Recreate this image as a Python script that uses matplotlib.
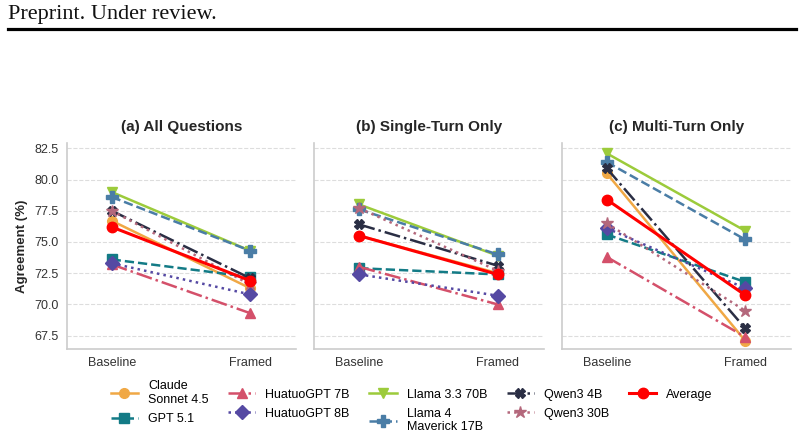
import matplotlib
matplotlib.use('Agg')
import matplotlib.pyplot as plt
from matplotlib.lines import Line2D

plt.rcParams['font.family'] = ['Liberation Sans', 'DejaVu Sans']

conditions = ['Baseline', 'Framed']
models = ['Claude\nSonnet 4.5', 'GPT 5.1', 'HuatuoGPT 7B', 'HuatuoGPT 8B',
          'Llama 3.3 70B', 'Llama 4\nMaverick 17B', 'Qwen3 4B', 'Qwen3 30B', 'Average']
panel_titles = ['(a) All Questions', '(b) Single-Turn Only', '(c) Multi-Turn Only']

# (baseline, framed) per model, same order as models
all_q = [[76.7, 71.3], [73.6, 72.2], [73.2, 69.3], [73.3, 70.8],
         [79.0, 74.3], [78.6, 74.3], [77.5, 72.1], [77.5, 71.6], [76.2, 71.9]]
single_turn = [[75.5, 72.5], [72.9, 72.4], [73.0, 70.0], [72.4, 70.7],
               [78.0, 73.9], [77.6, 74.0], [76.4, 73.1], [77.7, 72.7], [75.5, 72.4]]
multi_turn = [[80.5, 67.1], [75.6, 71.8], [73.8, 67.4], [76.1, 71.3],
              [82.1, 75.9], [81.4, 75.2], [80.9, 68.1], [76.5, 69.5], [78.4, 70.75]]
panels = [all_q, single_turn, multi_turn]

colors = ['#F0A845', '#137B86', '#D4506A', '#5549A3', '#9CCB3B',
          '#4A7DA6', '#2A2E44', '#B4687C', '#FF0000']
markers = ['o', 's', '^', 'D', 'v', 'P', 'X', '*', 'o']
styles = ['-', '--', '-.', ':', '-', '--', '-.', ':', '-']
widths = [1.8, 1.8, 1.8, 1.8, 1.8, 1.8, 1.8, 1.8, 2.2]
msizes = [7, 7, 7, 7, 7, 8, 7, 9, 7.5]

fig = plt.figure(figsize=(8.04, 4.38), dpi=100)

fig.text(8 / 804, 1 - 14 / 438, 'Preprint. Under review.', family='Liberation Serif',
         fontsize=16, va='center', ha='left', color='#111111')
fig.add_artist(Line2D([8 / 804, 796 / 804], [1 - 29 / 438, 1 - 29 / 438],
                      color='black', lw=2.3, transform=fig.transFigure))

lefts = [66.7 / 804, 314.3 / 804, 561.7 / 804]
handles = []
for k, data in enumerate(panels):
    ax = fig.add_axes([lefts[k], 1 - 349 / 438, 229.5 / 804, 205.7 / 438])
    for i, vals in enumerate(data):
        h, = ax.plot([0, 1], vals, color=colors[i], marker=markers[i], linestyle=styles[i],
                     lw=widths[i], markersize=msizes[i], label=models[i],
                     zorder=5 if i == len(data) - 1 else 3)
        if k == 0:
            handles.append(h)
    ax.set_xlim(-0.325, 1.333)
    ax.set_ylim(66.43, 82.9)
    ax.set_xticks([0, 1])
    ax.set_xticklabels(conditions)
    ax.set_yticks([67.5, 70.0, 72.5, 75.0, 77.5, 80.0, 82.5])
    ax.yaxis.grid(True, linestyle='--', color='#dddddd', lw=0.8)
    ax.set_axisbelow(True)
    for s in ['top', 'right']:
        ax.spines[s].set_visible(False)
    for s in ['left', 'bottom']:
        ax.spines[s].set_color('#cccccc')
        ax.spines[s].set_linewidth(1.2)
    ax.tick_params(length=0, labelsize=9, labelcolor='#333333', pad=6)
    ax.set_title(panel_titles[k], fontsize=11, fontweight='bold', color='#262626', pad=9)
    if k == 0:
        ax.set_ylabel('Agreement (%)', fontsize=9.5, fontweight='bold', color='#262626')
    else:
        ax.tick_params(labelleft=False)

fig.legend(handles=handles, loc='upper center', bbox_to_anchor=(0.512, 1 - 369 / 438),
           ncol=5, frameon=False, fontsize=9, handlelength=2.2, columnspacing=1.55,
           labelspacing=0.55, handletextpad=0.8)

fig.savefig('out.png', dpi=100)
